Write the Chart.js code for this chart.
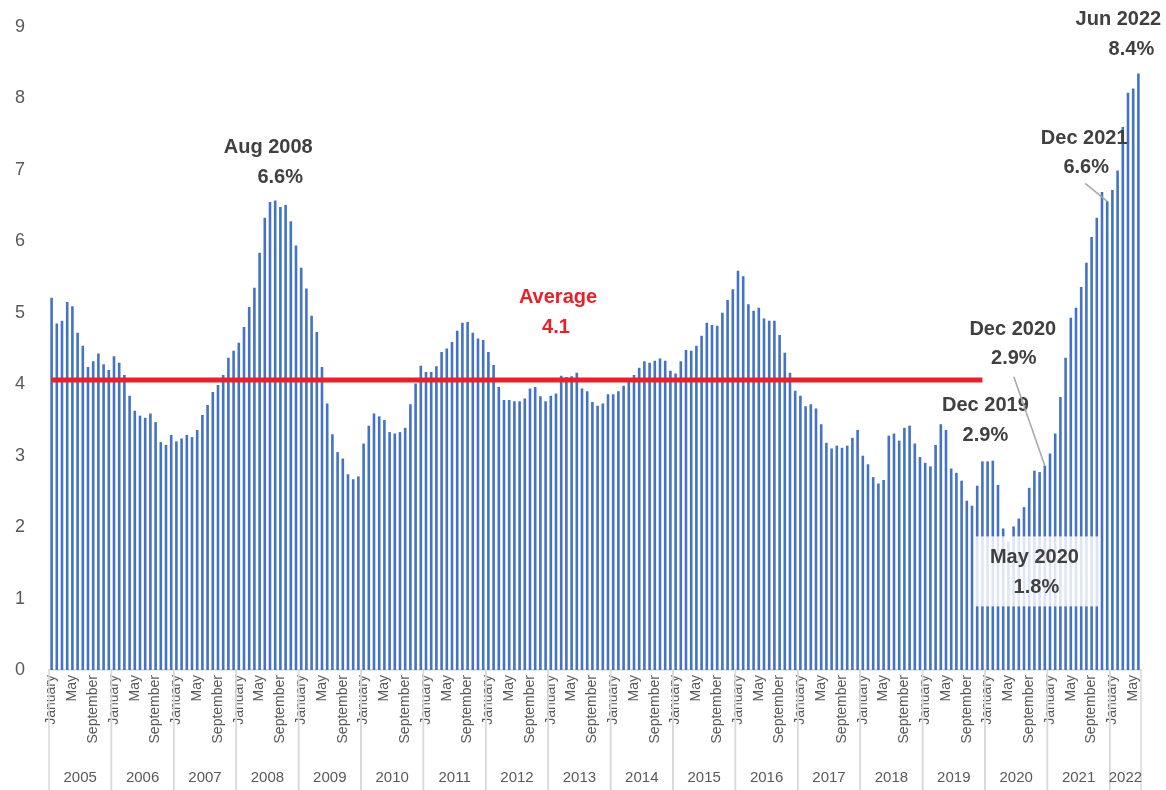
<!DOCTYPE html>
<html>
<head>
<meta charset="utf-8">
<title>Monthly rate 2005 - 2022</title>
<script src="https://cdn.jsdelivr.net/npm/chart.js@4.4.0/dist/chart.umd.min.js"></script>
<style>
  html, body { margin: 0; padding: 0; background: #fff; }
  canvas { display: block; }
</style>
</head>
<body>
<canvas id="myChart" width="1166" height="790"></canvas>
<script>
var years = [2005, 2006, 2007, 2008, 2009, 2010, 2011, 2012, 2013, 2014, 2015, 2016, 2017, 2018, 2019, 2020, 2021, 2022];
var monthNames = ["January", "February", "March", "April", "May", "June", "July", "August", "September", "October", "November", "December"];
var shownMonths = ["January", "May", "September"];
var yTicks = [0, 1, 2, 3, 4, 5, 6, 7, 8, 9];

// one row per year, Jan..Dec (2022 stops at June)
var rates = [
  5.21, 4.85, 4.89, 5.15, 5.09, 4.72, 4.54, 4.24, 4.32, 4.43, 4.28, 4.20,
  4.39, 4.30, 4.13, 3.84, 3.63, 3.56, 3.53, 3.59, 3.47, 3.19, 3.15, 3.29,
  3.20, 3.24, 3.29, 3.26, 3.36, 3.57, 3.71, 3.89, 3.99, 4.13, 4.37, 4.47,
  4.58, 4.80, 5.08, 5.35, 5.84, 6.33, 6.55, 6.57, 6.48, 6.51, 6.28, 5.94,
  5.63, 5.34, 4.96, 4.73, 4.24, 3.73, 3.30, 3.05, 2.96, 2.74, 2.67, 2.71,
  3.17, 3.42, 3.59, 3.55, 3.50, 3.33, 3.31, 3.33, 3.39, 3.72, 4.01, 4.26,
  4.17, 4.17, 4.25, 4.45, 4.50, 4.59, 4.75, 4.86, 4.87, 4.72, 4.64, 4.62,
  4.45, 4.27, 3.96, 3.78, 3.78, 3.76, 3.76, 3.80, 3.94, 3.96, 3.83, 3.76,
  3.84, 3.87, 4.12, 4.10, 4.11, 4.16, 3.94, 3.90, 3.75, 3.70, 3.73, 3.86,
  3.86, 3.90, 3.98, 4.04, 4.13, 4.23, 4.32, 4.30, 4.33, 4.36, 4.33, 4.19,
  4.15, 4.32, 4.48, 4.47, 4.54, 4.68, 4.86, 4.83, 4.82, 5.00, 5.18, 5.33,
  5.59, 5.51, 5.12, 5.03, 5.07, 4.92, 4.89, 4.89, 4.69, 4.44, 4.16, 3.91,
  3.84, 3.69, 3.72, 3.66, 3.44, 3.18, 3.10, 3.14, 3.11, 3.14, 3.25, 3.36,
  3.00, 2.88, 2.70, 2.61, 2.66, 3.28, 3.31, 3.21, 3.39, 3.42, 3.17, 2.98,
  2.90, 2.85, 3.15, 3.44, 3.36, 2.82, 2.76, 2.65, 2.37, 2.30, 2.58, 2.92,
  2.92, 2.93, 2.59, 1.98, 1.80, 2.01, 2.12, 2.28, 2.55, 2.79, 2.77, 2.86,
  3.03, 3.31, 3.82, 4.37, 4.93, 5.07, 5.36, 5.70, 6.06, 6.33, 6.69, 6.56,
  6.72, 6.99, 7.60, 8.08, 8.14, 8.35
];

var avgValue = 4.06;
var avgLabel = "4.1";
var avgLastMonth = "December 2019";

// callouts: which month, the text lines, and where the text sits relative to the bar top
var notes = [
  { month: "August 2008", lines: ["Aug 2008", "6.6%"], dx: [-7, 5], dy: [-53, -23] },
  { month: "December 2019", lines: ["Dec 2019", "2.9%"], dx: [3, 3], dy: [-56, -26] },
  { month: "December 2020", lines: ["Dec 2020", "2.9%"], dx: [-32, -31], dy: [-136, -107], leader: [-31, -89] },
  { month: "December 2021", lines: ["Dec 2021", "6.6%"], dx: [-23, -21], dy: [-63, -34], leader: [-22, -18] },
  { month: "June 2022", lines: ["Jun 2022", "8.4%"], dx: [-20, -7], dy: [-54, -24] },
  { month: "May 2020", lines: ["May 2020", "1.8%"], dx: [26, 28], dy: [16, 46], box: [-33, -5, 123, 70] }
];

var categories = [];
years.forEach(function (y) {
  monthNames.forEach(function (m) {
    if (categories.length < rates.length) categories.push(m + " " + y);
  });
});

var lastAvgIdx = categories.indexOf(avgLastMonth);
var avgLine = categories.map(function (c, i) { return i <= lastAvgIdx ? avgValue : null; });

Chart.defaults.font.family = "'Liberation Sans', Arial, sans-serif";

const yearAxis = {
  id: "yearAxis",
  afterDraw(chart) {
    const ctx = chart.ctx;
    const x = chart.scales.x;
    const band = x.getPixelForValue(1) - x.getPixelForValue(0);
    const top = chart.chartArea.bottom;
    const bottom = chart.height;
    ctx.save();
    ctx.strokeStyle = "#d9d9d9";
    ctx.lineWidth = 1.5;
    ctx.fillStyle = "#595959";
    ctx.font = "15px 'Liberation Sans', Arial, sans-serif";
    ctx.textAlign = "center";
    ctx.textBaseline = "middle";
    years.forEach(function (y) {
      var idx = [];
      categories.forEach(function (c, i) { if (c.endsWith(" " + y)) idx.push(i); });
      var left = x.getPixelForValue(idx[0]) - band / 2;
      var right = x.getPixelForValue(idx[idx.length - 1]) + band / 2;
      ctx.beginPath();
      ctx.moveTo(left, top); ctx.lineTo(left, bottom);
      ctx.moveTo(right, top); ctx.lineTo(right, bottom);
      ctx.stroke();
      ctx.fillText(String(y), (left + right) / 2, 778);
    });
    ctx.restore();
  }
};

const callouts = {
  id: "callouts",
  afterDatasetsDraw(chart) {
    const ctx = chart.ctx;
    const x = chart.scales.x;
    const y = chart.scales.y;
    ctx.save();
    ctx.textAlign = "center";
    ctx.textBaseline = "middle";

    notes.forEach(function (n) {
      var i = categories.indexOf(n.month);
      var px = x.getPixelForValue(i);
      var py = y.getPixelForValue(rates[i]);
      if (n.box) {
        ctx.fillStyle = "rgba(255,255,255,0.82)";
        ctx.fillRect(px + n.box[0], py + n.box[1], n.box[2], n.box[3]);
      }
      if (n.leader) {
        ctx.strokeStyle = "#a6a6a6";
        ctx.lineWidth = 1.5;
        ctx.beginPath();
        ctx.moveTo(px + n.leader[0], py + n.leader[1]);
        ctx.lineTo(px, py);
        ctx.stroke();
      }
      ctx.fillStyle = "#404040";
      ctx.font = "bold 20px 'Liberation Sans', Arial, sans-serif";
      n.lines.forEach(function (t, k) {
        ctx.fillText(t, px + n.dx[k], py + n.dy[k]);
      });
    });

    // average label
    var ax = x.getPixelForValue(97);
    var ay = y.getPixelForValue(avgValue);
    ctx.fillStyle = "#e8202a";
    ctx.font = "bold 20px 'Liberation Sans', Arial, sans-serif";
    ctx.fillText("Average", ax + 2, ay - 82);
    ctx.fillText(avgLabel, ax, ay - 52);
    ctx.restore();
  }
};

var mychart = new Chart("myChart", {
  type: "bar",
  data: {
    labels: categories,
    datasets: [
      {
        type: "line",
        data: avgLine,
        borderColor: "#e8202a",
        borderWidth: 5,
        pointRadius: 0,
        spanGaps: false,
        order: 0
      },
      {
        data: rates,
        backgroundColor: "#4472c4",
        barPercentage: 0.5,
        categoryPercentage: 1.0,
        order: 1
      }
    ]
  },
  options: {
    responsive: false,
    animation: false,
    layout: { padding: { top: 27, right: 25, left: 15, bottom: 0 } },
    plugins: {
      legend: { display: false },
      tooltip: { enabled: false }
    },
    scales: {
      x: {
        grid: { display: false, drawTicks: false },
        border: { display: true, color: "#d9d9d9", width: 1.5 },
        ticks: {
          autoSkip: false,
          maxRotation: 90,
          minRotation: 90,
          padding: 5,
          color: "#595959",
          font: { size: 14 },
          callback: function (value) {
            var m = this.getLabelForValue(value).split(" ")[0];
            return shownMonths.indexOf(m) >= 0 ? m : "";
          }
        },
        afterFit: function (scale) { scale.height = 120; }
      },
      y: {
        min: yTicks[0],
        max: yTicks[yTicks.length - 1],
        grid: { display: false, drawTicks: false },
        border: { display: false },
        ticks: {
          stepSize: 1,
          padding: 3,
          crossAlign: "far",
          color: "#595959",
          font: { size: 18 }
        },
        afterFit: function (scale) { scale.width = 34; }
      }
    }
  },
  plugins: [yearAxis, callouts]
});
</script>
</body>
</html>
